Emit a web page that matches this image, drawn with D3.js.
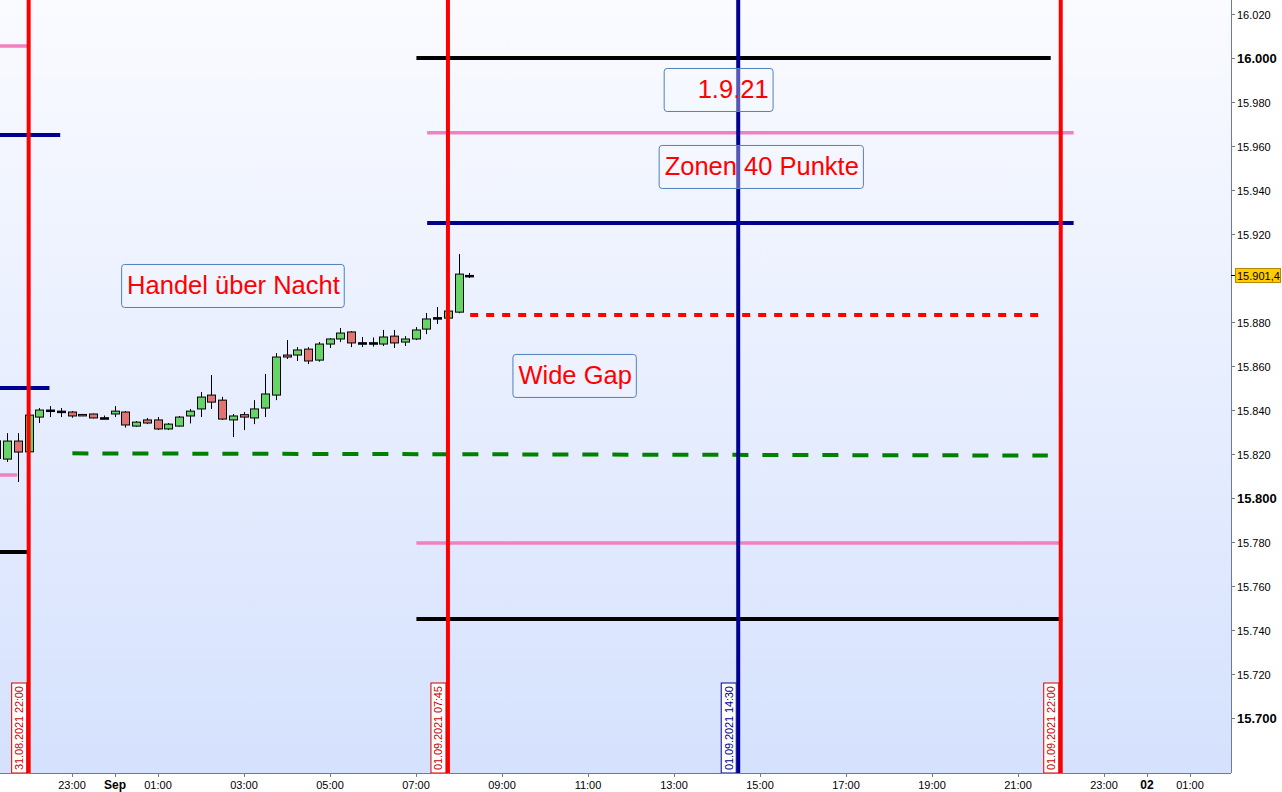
<!DOCTYPE html>
<html>
<head>
<meta charset="utf-8">
<script src="https://cdn.jsdelivr.net/npm/d3@7"></script>
<style>
  body { margin: 0; background: #fff; }
  svg { display: block; font-family: "Liberation Sans", Arial, sans-serif; }
</style>
</head>
<body>
<div id="chart"></div>
<script>
// 15 minute candles, 31.08.2021 21:15 to 01.09.2021 08:15 (UTC used as local chart time)
var candleTimes = [
  "2021-08-31T21:15", "2021-08-31T21:30", "2021-08-31T21:45", "2021-08-31T22:00",
  "2021-08-31T22:15", "2021-08-31T22:30", "2021-08-31T22:45", "2021-08-31T23:00",
  "2021-08-31T23:15", "2021-08-31T23:30", "2021-08-31T23:45", "2021-09-01T00:00",
  "2021-09-01T00:15", "2021-09-01T00:30", "2021-09-01T00:45", "2021-09-01T01:00",
  "2021-09-01T01:15", "2021-09-01T01:30", "2021-09-01T01:45", "2021-09-01T02:00",
  "2021-09-01T02:15", "2021-09-01T02:30", "2021-09-01T02:45", "2021-09-01T03:00",
  "2021-09-01T03:15", "2021-09-01T03:30", "2021-09-01T03:45", "2021-09-01T04:00",
  "2021-09-01T04:15", "2021-09-01T04:30", "2021-09-01T04:45", "2021-09-01T05:00",
  "2021-09-01T05:15", "2021-09-01T05:30", "2021-09-01T05:45", "2021-09-01T06:00",
  "2021-09-01T06:15", "2021-09-01T06:30", "2021-09-01T06:45", "2021-09-01T07:00",
  "2021-09-01T07:15", "2021-09-01T07:30", "2021-09-01T07:45", "2021-09-01T08:00",
  "2021-09-01T08:15"
];
var opens = [
  15818.0, 15817.7, 15825.9, 15821.0, 15836.8, 15840.0, 15839.5, 15839.1,
  15838.0, 15838.2, 15836.5, 15838.2, 15839.1, 15832.7, 15835.5, 15835.5,
  15831.4, 15832.7, 15837.3, 15840.5, 15846.8, 15844.5, 15835.5, 15837.9,
  15836.4, 15840.9, 15846.8, 15865.0, 15865.0, 15867.7, 15862.7, 15870.0,
  15872.3, 15875.5, 15870.6, 15870.6, 15870.0, 15873.6, 15870.9, 15872.3,
  15876.8, 15882.0, 15881.8, 15884.5, 15901.2
];
var highs = [
  15829.0, 15829.5, 15829.5, 15837.7, 15840.9, 15841.8, 15840.9, 15839.5,
  15838.1, 15838.4, 15837.5, 15841.8, 15839.5, 15835.0, 15836.4, 15836.8,
  15834.1, 15837.3, 15840.5, 15848.2, 15855.9, 15846.0, 15838.2, 15839.1,
  15844.5, 15856.4, 15865.9, 15871.8, 15868.6, 15868.6, 15870.9, 15872.7,
  15877.3, 15875.9, 15873.2, 15873.0, 15876.4, 15876.4, 15873.6, 15877.7,
  15884.1, 15886.8, 15886.8, 15910.9, 15902.3
];
var lows = [
  15815.0, 15816.4, 15807.3, 15821.0, 15834.1, 15836.8, 15836.8, 15836.5,
  15837.7, 15836.2, 15835.8, 15836.8, 15832.0, 15832.4, 15833.6, 15830.9,
  15830.9, 15832.5, 15833.9, 15836.8, 15840.5, 15835.5, 15827.7, 15830.9,
  15833.6, 15836.8, 15844.5, 15863.2, 15862.3, 15860.9, 15862.0, 15868.2,
  15870.9, 15868.6, 15868.6, 15868.8, 15869.1, 15868.2, 15869.1, 15871.8,
  15874.5, 15879.1, 15881.4, 15884.0, 15900.0
];
var closes = [
  15826.0, 15825.9, 15820.9, 15837.7, 15840.0, 15840.0, 15839.5, 15837.3,
  15837.8, 15836.4, 15836.5, 15839.5, 15833.2, 15834.5, 15834.1, 15831.4,
  15833.6, 15836.8, 15839.5, 15845.9, 15843.6, 15835.9, 15837.3, 15836.8,
  15840.5, 15847.3, 15864.1, 15864.1, 15867.3, 15862.3, 15870.0, 15872.3,
  15875.0, 15870.5, 15870.6, 15870.6, 15873.2, 15870.5, 15872.3, 15876.4,
  15881.4, 15882.0, 15885.0, 15901.8, 15901.2
];
var lastPrice = "15.901,4";

// horizontal zone lines: value, from, to, kind
var levelValues = [16000, 15966, 15925, 15779.5, 15745, 16005.5, 15965, 15850, 15810.5, 15775.5];
var levelFrom = [
  "2021-09-01T07:01", "2021-09-01T07:16", "2021-09-01T07:16", "2021-09-01T07:01", "2021-09-01T07:01",
  "2021-08-31T21:00", "2021-08-31T21:00", "2021-08-31T21:00", "2021-08-31T21:00", "2021-08-31T21:00"
];
var levelTo = [
  "2021-09-01T21:46", "2021-09-01T22:18", "2021-09-01T22:18", "2021-09-01T22:02", "2021-09-01T22:02",
  "2021-08-31T21:58", "2021-08-31T22:44", "2021-08-31T22:29", "2021-08-31T21:44", "2021-08-31T21:58"
];
var levelKinds = ["black", "pink", "navy", "pink", "black", "pink", "navy", "navy", "pink", "black"];

// gap lines
var gapRedFrom = "2021-09-01T08:16", gapRedTo = "2021-09-01T21:32", gapRedValue = 15883.2;
var gapGreenFrom = "2021-08-31T23:01", gapGreenTo = "2021-09-01T21:42";
var gapGreenValues = [15820.3, 15819.3];

// vertical session markers
var markerTimes = ["2021-08-31T22:00", "2021-09-01T07:45", "2021-09-01T14:30", "2021-09-01T22:00"];
var markerLabels = ["31.08.2021 22:00", "01.09.2021 07:45", "01.09.2021 14:30", "01.09.2021 22:00"];
var markerKinds = ["red", "red", "navy", "red"];

// text notes: text, anchor time (left edge), anchor price (top edge)
var noteTexts = ["Handel über Nacht", "1.9.21", "Zonen 40 Punkte", "Wide Gap"];
var noteTimes = ["2021-09-01T00:09", "2021-09-01T12:46", "2021-09-01T12:39", "2021-09-01T09:15"];
var notePrices = [15906.4, 15995.5, 15960.5, 15865.5];

// axis ticks
var xTickTimes = [
  "2021-08-31T23:00", "2021-09-01T00:00", "2021-09-01T01:00", "2021-09-01T03:00", "2021-09-01T05:00",
  "2021-09-01T07:00", "2021-09-01T09:00", "2021-09-01T11:00", "2021-09-01T13:00", "2021-09-01T15:00",
  "2021-09-01T17:00", "2021-09-01T19:00", "2021-09-01T21:00", "2021-09-01T23:00", "2021-09-02T00:00",
  "2021-09-02T01:00"
];
var xTickLabels = ["23:00", "Sep", "01:00", "03:00", "05:00", "07:00", "09:00", "11:00", "13:00",
  "15:00", "17:00", "19:00", "21:00", "23:00", "02", "01:00"];
var yTicks = [15700, 15720, 15740, 15760, 15780, 15800, 15820, 15840, 15860, 15880, 15920, 15940, 15960, 15980, 16000, 16020];

var width = 1282, height = 792;
var plotW = 1231, plotH = 773;

var parse = d3.utcParse("%Y-%m-%dT%H:%M");
var x = d3.scaleUtc()
  .domain([parse("2021-08-31T21:20"), parse("2021-09-02T01:57")])
  .range([0, 1230.6]);
var y = d3.scaleLinear().domain([15675, 16026.4]).range([plotH, 0]);
var fmt = function (v) { return d3.format(",.3f")(v / 1000).replace(",", ""); };

var colors = {
  black: "#000000", pink: "#f080c0", navy: "#000090", red: "#ff0000",
  green: "#008000", up: "#66d466", down: "#e07474"
};

var svg = d3.select("#chart").append("svg").attr("width", width).attr("height", height);

var defs = svg.append("defs");
var grad = defs.append("linearGradient").attr("id", "bg").attr("x1", 0).attr("y1", 0).attr("x2", 0).attr("y2", 1);
grad.append("stop").attr("offset", "0%").attr("stop-color", "#fafbff");
grad.append("stop").attr("offset", "100%").attr("stop-color", "#d5e1fd");
defs.append("clipPath").attr("id", "clip").append("rect").attr("width", plotW).attr("height", plotH);

svg.append("rect").attr("width", plotW).attr("height", plotH).attr("fill", "url(#bg)");

var plot = svg.append("g").attr("clip-path", "url(#clip)");

// zone lines
plot.selectAll(".level").data(levelValues).enter().append("line")
  .attr("x1", function (d, i) { return x(parse(levelFrom[i])); })
  .attr("x2", function (d, i) { return x(parse(levelTo[i])); })
  .attr("y1", function (d) { return y(d); })
  .attr("y2", function (d) { return y(d); })
  .attr("stroke", function (d, i) { return colors[levelKinds[i]]; })
  .attr("stroke-width", function (d, i) { return levelKinds[i] == "pink" ? 3.5 : 4; });

plot.append("line")
  .attr("x1", x(parse(gapRedFrom))).attr("x2", x(parse(gapRedTo)))
  .attr("y1", y(gapRedValue)).attr("y2", y(gapRedValue))
  .attr("stroke", colors.red).attr("stroke-width", 4).attr("stroke-dasharray", "8,8");

plot.append("line")
  .attr("x1", x(parse(gapGreenFrom))).attr("x2", x(parse(gapGreenTo)))
  .attr("y1", y(gapGreenValues[0])).attr("y2", y(gapGreenValues[1]))
  .attr("stroke", colors.green).attr("stroke-width", 4).attr("stroke-dasharray", "16,14");

// candles
var candles = plot.selectAll(".candle").data(candleTimes).enter().append("g")
  .attr("class", "candle")
  .attr("transform", function (d) { return "translate(" + Math.round(x(parse(d))) + ",0)"; });

candles.append("line")
  .attr("x1", 0.5).attr("x2", 0.5)
  .attr("y1", function (d, i) { return y(highs[i]); })
  .attr("y2", function (d, i) { return y(lows[i]); })
  .attr("stroke", "#000").attr("stroke-width", 1);

candles.append("rect")
  .attr("x", -3.5)
  .attr("width", 8)
  .attr("y", function (d, i) { return y(Math.max(opens[i], closes[i])); })
  .attr("height", function (d, i) { return Math.max(1.5, Math.abs(y(opens[i]) - y(closes[i]))); })
  .attr("fill", function (d, i) {
    if (Math.abs(closes[i] - opens[i]) < 0.15) return "#000";
    return closes[i] > opens[i] ? colors.up : colors.down;
  })
  .attr("stroke", "#000").attr("stroke-width", 1);

// vertical markers
plot.selectAll(".marker").data(markerTimes).enter().append("line")
  .attr("x1", function (d) { return x(parse(d)); })
  .attr("x2", function (d) { return x(parse(d)); })
  .attr("y1", 0).attr("y2", plotH)
  .attr("stroke", function (d, i) { return colors[markerKinds[i]]; })
  .attr("stroke-width", 4);

var mLabel = plot.selectAll(".mlabel").data(markerTimes).enter().append("g")
  .attr("transform", function (d) { return "translate(" + (x(parse(d)) - 9.5) + "," + plotH + ") rotate(-90)"; });
mLabel.append("rect")
  .attr("x", 0).attr("y", -7.5).attr("width", 90).attr("height", 15)
  .attr("fill", "#fff")
  .attr("stroke", function (d, i) { return markerKinds[i] == "red" ? "#d00000" : colors.navy; })
  .attr("stroke-width", 1);
mLabel.append("text")
  .attr("x", 3).attr("y", 4)
  .attr("font-size", "11px")
  .attr("textLength", 84)
  .attr("fill", function (d, i) { return markerKinds[i] == "red" ? "#cc0000" : colors.navy; })
  .text(function (d, i) { return markerLabels[i]; });

// notes
var notes = plot.selectAll(".note").data(noteTexts).enter().append("g")
  .attr("transform", function (d, i) { return "translate(" + x(parse(noteTimes[i])) + "," + y(notePrices[i]) + ")"; });
notes.append("text")
  .attr("font-size", "25.5px")
  .attr("fill", "#ff0000")
  .attr("y", 30)
  .text(function (d) { return d; });
notes.each(function () {
  var g = d3.select(this);
  var bb = g.select("text").node().getBBox();
  var padL = 6, padR = 4;
  if (g.datum() == "1.9.21") padL = 34;
  g.select("text").attr("x", padL);
  g.insert("rect", "text")
    .attr("x", 0.5).attr("y", 0.5)
    .attr("width", bb.width + padL + padR)
    .attr("height", 43)
    .attr("rx", 3)
    .attr("fill", "rgba(245,248,255,0.35)")
    .attr("stroke", "#4f81bd").attr("stroke-width", 1);
});

// axes
var xAxis = svg.append("g").attr("transform", "translate(0," + plotH + ")");
xAxis.append("line").attr("x1", 0).attr("x2", plotW).attr("y1", 0.5).attr("y2", 0.5).attr("stroke", "#6d7d8f");
var xt = xAxis.selectAll(".xt").data(xTickTimes).enter().append("g")
  .attr("transform", function (d) { return "translate(" + Math.round(x(parse(d))) + ",0)"; });
xt.append("line").attr("x1", 0.5).attr("x2", 0.5).attr("y1", 0).attr("y2", 4).attr("stroke", "#6d7d8f");
xt.append("text")
  .attr("y", 16).attr("text-anchor", "middle")
  .attr("font-size", function (d, i) { return (xTickLabels[i] == "Sep" || xTickLabels[i] == "02") ? "12px" : "11px"; })
  .attr("font-weight", function (d, i) { return (xTickLabels[i] == "Sep" || xTickLabels[i] == "02") ? "bold" : "normal"; })
  .attr("fill", "#000")
  .text(function (d, i) { return xTickLabels[i]; });

var yAxis = svg.append("g").attr("transform", "translate(" + plotW + ",0)");
yAxis.append("line").attr("x1", 0.5).attr("x2", 0.5).attr("y1", 0).attr("y2", plotH).attr("stroke", "#6d7d8f");
var yt = yAxis.selectAll(".yt").data(yTicks).enter().append("g")
  .attr("transform", function (d) { return "translate(0," + Math.round(y(d)) + ")"; });
yt.append("line").attr("x1", 0).attr("x2", 4).attr("y1", 0.5).attr("y2", 0.5).attr("stroke", "#6d7d8f");
yt.append("text")
  .attr("x", 6).attr("y", 4.5)
  .attr("font-size", function (d) { return d % 100 == 0 ? "13px" : "11px"; })
  .attr("font-weight", function (d) { return d % 100 == 0 ? "bold" : "normal"; })
  .attr("fill", "#000")
  .text(function (d) { return fmt(d); });

// last price tag
var lastY = Math.round(y(closes[closes.length - 1]));
var tag = yAxis.append("g").attr("transform", "translate(0," + lastY + ")");
tag.append("line").attr("x1", 0).attr("x2", 5).attr("y1", 0.5).attr("y2", 0.5).attr("stroke", "#000");
tag.append("rect").attr("x", 4.5).attr("y", -6.5).attr("width", 45).attr("height", 14)
  .attr("fill", "#ffcc00").attr("stroke", "#b08a00");
tag.append("text").attr("x", 6).attr("y", 4.5).attr("font-size", "11px").attr("fill", "#000").text(lastPrice);
</script>
</body>
</html>
